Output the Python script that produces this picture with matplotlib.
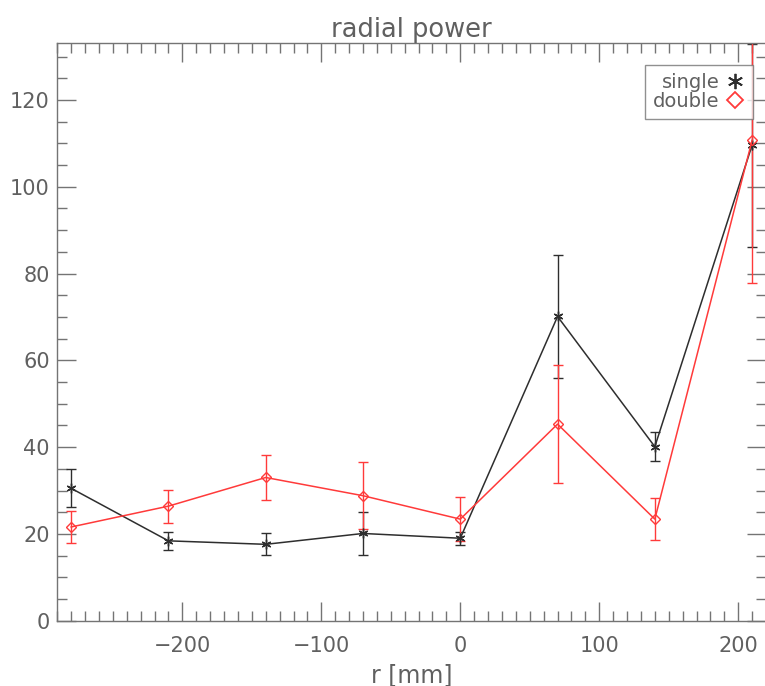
import numpy as np
import matplotlib
matplotlib.use("Agg")
from matplotlib import pyplot as plt
from matplotlib.lines import Line2D
from matplotlib.ticker import MultipleLocator

# radial positions [mm]
r = [-280, -210, -140, -70, 0, 70, 140, 210]

single = [30.5, 18.4, 17.6, 20.1, 19.0, 70.1, 40.1, 109.6]
single_err = [4.4, 2.0, 2.5, 4.9, 1.5, 14.1, 3.4, 23.4]

double = [21.6, 26.4, 33.0, 28.8, 23.4, 45.3, 23.4, 110.7]
double_err = [3.7, 3.8, 5.2, 7.7, 5.1, 13.6, 4.9, 32.8]

axis_col = "#747474"
text_col = "#606060"
black = "#2e2e2e"
red = "#ff3a3a"

plt.rcParams["font.family"] = ["DejaVu Sans"]
plt.rcParams["font.size"] = 15

fig = plt.figure(figsize=(7.65, 6.86), dpi=100)
ax = fig.add_axes([0.0749, 0.0952, 0.9264, 0.8426])

ax.errorbar(r, single, yerr=single_err, color=black, ecolor=black, lw=1.1,
            elinewidth=1.0, capsize=3.3, capthick=1.0,
            marker=(6, 2, 0), ms=7, mew=1.0)
ax.errorbar(r, double, yerr=double_err, color=red, ecolor=red, lw=1.1,
            elinewidth=1.0, capsize=3.3, capthick=1.0,
            marker="D", ms=5, mfc="none", mec=red, mew=1.0)

ax.set_xlim(-290, 220)
ax.set_ylim(0, 133.2)

ax.xaxis.set_major_locator(MultipleLocator(100))
ax.xaxis.set_minor_locator(MultipleLocator(10))
ax.yaxis.set_major_locator(MultipleLocator(20))
ax.yaxis.set_minor_locator(MultipleLocator(5))

# IDL-style inward ticks on every side
ax.tick_params(which="both", direction="in", top=True, right=True,
               color=axis_col, labelcolor=text_col, width=1.0)
ax.tick_params(which="major", length=14)
ax.tick_params(which="minor", length=7)
ax.tick_params(axis="x", which="major", pad=11)
ax.tick_params(axis="y", which="major", pad=5.5)

ax.set_xticklabels([f"{int(t)}".replace("-", "\u2212") for t in ax.get_xticks()])

for s in ax.spines.values():
    s.set_color(axis_col)
    s.set_linewidth(1.0)

ax.set_title("radial power", color=text_col, fontsize=18.5, pad=4)
ax.set_xlabel("r [mm]", color=text_col, fontsize=17, labelpad=5)

# symbol-only legend entries, text first
handles = [
    Line2D([], [], ls="none", marker=(6, 2, 0), ms=11, mew=1.3, color=black),
    Line2D([], [], ls="none", marker="D", ms=8, mfc="none", mec=red, mew=1.3),
]
leg = ax.legend(handles, ["single", "double"], loc="upper right",
                bbox_to_anchor=(0.984, 0.905), bbox_transform=fig.transFigure,
                borderaxespad=0, markerfirst=False, handlelength=1.0,
                handletextpad=0.3, labelspacing=0.0, borderpad=0.4,
                fontsize=14, frameon=True, fancybox=False)
leg.get_frame().set_edgecolor(axis_col)
leg.get_frame().set_linewidth(1.0)
for t in leg.get_texts():
    t.set_color(text_col)
    t.set_ha("right")

fig.savefig("out.png", dpi=100)
